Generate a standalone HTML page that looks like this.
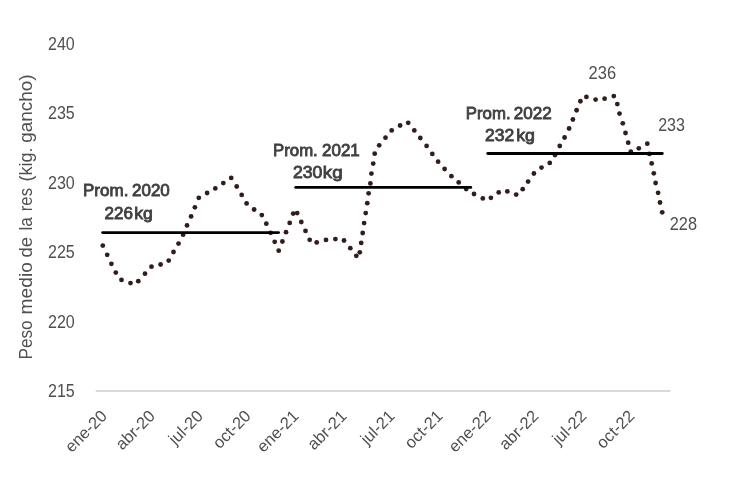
<!DOCTYPE html><html><head><meta charset="utf-8"><style>html,body{margin:0;padding:0;background:#fff;}svg{display:block;will-change:transform;}text{font-family:"Liberation Sans",sans-serif;}</style></head><body>
<svg width="733" height="480" viewBox="0 0 733 480">
<rect width="733" height="480" fill="#fff"/>
<line x1="95.7" y1="391" x2="670.5" y2="391" stroke="#cdcdcd" stroke-width="1.4"/>
<text x="74.8" y="49.5" text-anchor="end" font-size="18" fill="#4f4f4f" textLength="26.8" lengthAdjust="spacingAndGlyphs">240</text>
<text x="74.8" y="119.0" text-anchor="end" font-size="18" fill="#4f4f4f" textLength="26.8" lengthAdjust="spacingAndGlyphs">235</text>
<text x="74.8" y="188.6" text-anchor="end" font-size="18" fill="#4f4f4f" textLength="26.8" lengthAdjust="spacingAndGlyphs">230</text>
<text x="74.8" y="258.1" text-anchor="end" font-size="18" fill="#4f4f4f" textLength="26.8" lengthAdjust="spacingAndGlyphs">225</text>
<text x="74.8" y="327.7" text-anchor="end" font-size="18" fill="#4f4f4f" textLength="26.8" lengthAdjust="spacingAndGlyphs">220</text>
<text x="74.8" y="397.2" text-anchor="end" font-size="18" fill="#4f4f4f" textLength="26.8" lengthAdjust="spacingAndGlyphs">215</text>
<text transform="translate(32.4,359.6) rotate(-90)" x="0" y="0" font-size="18" fill="#4f4f4f" textLength="39.3" lengthAdjust="spacingAndGlyphs">Peso</text>
<text transform="translate(32.4,314.4) rotate(-90)" x="0" y="0" font-size="18" fill="#4f4f4f" textLength="52.2" lengthAdjust="spacingAndGlyphs">medio</text>
<text transform="translate(32.4,257.6) rotate(-90)" x="0" y="0" font-size="18" fill="#4f4f4f" textLength="20.5" lengthAdjust="spacingAndGlyphs">de</text>
<text transform="translate(32.4,230.5) rotate(-90)" x="0" y="0" font-size="18" fill="#4f4f4f" textLength="13.4" lengthAdjust="spacingAndGlyphs">la</text>
<text transform="translate(32.4,211.2) rotate(-90)" x="0" y="0" font-size="18" fill="#4f4f4f" textLength="23.2" lengthAdjust="spacingAndGlyphs">res</text>
<text transform="translate(32.4,181.5) rotate(-90)" x="0" y="0" font-size="18" fill="#4f4f4f" textLength="34.1" lengthAdjust="spacingAndGlyphs">(kig.</text>
<text transform="translate(32.4,142.8) rotate(-90)" x="0" y="0" font-size="18" fill="#4f4f4f" textLength="68.5" lengthAdjust="spacingAndGlyphs">gancho)</text>
<text transform="translate(99.50,408.5) rotate(-45)" x="0" y="0" text-anchor="end" font-size="16.5" fill="#4f4f4f" dominant-baseline="hanging">ene-20</text>
<text transform="translate(147.45,408.5) rotate(-45)" x="0" y="0" text-anchor="end" font-size="16.5" fill="#4f4f4f" dominant-baseline="hanging">abr-20</text>
<text transform="translate(195.41,408.5) rotate(-45)" x="0" y="0" text-anchor="end" font-size="16.5" fill="#4f4f4f" dominant-baseline="hanging">jul-20</text>
<text transform="translate(243.37,408.5) rotate(-45)" x="0" y="0" text-anchor="end" font-size="16.5" fill="#4f4f4f" dominant-baseline="hanging">oct-20</text>
<text transform="translate(291.32,408.5) rotate(-45)" x="0" y="0" text-anchor="end" font-size="16.5" fill="#4f4f4f" dominant-baseline="hanging">ene-21</text>
<text transform="translate(339.27,408.5) rotate(-45)" x="0" y="0" text-anchor="end" font-size="16.5" fill="#4f4f4f" dominant-baseline="hanging">abr-21</text>
<text transform="translate(387.23,408.5) rotate(-45)" x="0" y="0" text-anchor="end" font-size="16.5" fill="#4f4f4f" dominant-baseline="hanging">jul-21</text>
<text transform="translate(435.19,408.5) rotate(-45)" x="0" y="0" text-anchor="end" font-size="16.5" fill="#4f4f4f" dominant-baseline="hanging">oct-21</text>
<text transform="translate(483.14,408.5) rotate(-45)" x="0" y="0" text-anchor="end" font-size="16.5" fill="#4f4f4f" dominant-baseline="hanging">ene-22</text>
<text transform="translate(531.10,408.5) rotate(-45)" x="0" y="0" text-anchor="end" font-size="16.5" fill="#4f4f4f" dominant-baseline="hanging">abr-22</text>
<text transform="translate(579.05,408.5) rotate(-45)" x="0" y="0" text-anchor="end" font-size="16.5" fill="#4f4f4f" dominant-baseline="hanging">jul-22</text>
<text transform="translate(627.00,408.5) rotate(-45)" x="0" y="0" text-anchor="end" font-size="16.5" fill="#4f4f4f" dominant-baseline="hanging">oct-22</text>
<text x="83.00" y="195.8" font-size="16.3" fill="#404040" stroke="#404040" stroke-width="0.8" textLength="45.40" lengthAdjust="spacingAndGlyphs">Prom.</text>
<text x="132.00" y="195.8" font-size="16.3" fill="#404040" stroke="#404040" stroke-width="0.8" textLength="37.80" lengthAdjust="spacingAndGlyphs">2020</text>
<text x="104.60" y="218.9" font-size="16.3" fill="#404040" stroke="#404040" stroke-width="0.8" textLength="28.40" lengthAdjust="spacingAndGlyphs">226</text>
<text x="134.20" y="218.9" font-size="16.3" fill="#404040" stroke="#404040" stroke-width="0.8" textLength="18.60" lengthAdjust="spacingAndGlyphs">kg</text>
<text x="273.00" y="155.5" font-size="16.3" fill="#404040" stroke="#404040" stroke-width="0.8" textLength="44.80" lengthAdjust="spacingAndGlyphs">Prom.</text>
<text x="322.00" y="155.5" font-size="16.3" fill="#404040" stroke="#404040" stroke-width="0.8" textLength="37.80" lengthAdjust="spacingAndGlyphs">2021</text>
<text x="293.00" y="178.2" font-size="16.3" fill="#404040" stroke="#404040" stroke-width="0.8" textLength="29.40" lengthAdjust="spacingAndGlyphs">230</text>
<text x="322.80" y="178.2" font-size="16.3" fill="#404040" stroke="#404040" stroke-width="0.8" textLength="19.80" lengthAdjust="spacingAndGlyphs">kg</text>
<text x="465.80" y="118.8" font-size="16.3" fill="#404040" stroke="#404040" stroke-width="0.8" textLength="44.80" lengthAdjust="spacingAndGlyphs">Prom.</text>
<text x="513.80" y="118.8" font-size="16.3" fill="#404040" stroke="#404040" stroke-width="0.8" textLength="38.00" lengthAdjust="spacingAndGlyphs">2022</text>
<text x="485.00" y="141.2" font-size="16.3" fill="#404040" stroke="#404040" stroke-width="0.8" textLength="29.20" lengthAdjust="spacingAndGlyphs">232</text>
<text x="516.20" y="141.2" font-size="16.3" fill="#404040" stroke="#404040" stroke-width="0.8" textLength="18.80" lengthAdjust="spacingAndGlyphs">kg</text>
<text x="588.6" y="78.9" font-size="17.8" fill="#4f4f4f" textLength="27.5" lengthAdjust="spacingAndGlyphs">236</text>
<text x="658.2" y="130.9" font-size="17.8" fill="#4f4f4f" textLength="26.8" lengthAdjust="spacingAndGlyphs">233</text>
<text x="669.7" y="230" font-size="17.8" fill="#4f4f4f" textLength="27.3" lengthAdjust="spacingAndGlyphs">228</text>
<g fill="#321c1c">
<circle cx="102.8" cy="245.6" r="2.4"/>
<circle cx="107.2" cy="254.8" r="2.4"/>
<circle cx="111.4" cy="263.8" r="2.4"/>
<circle cx="115.8" cy="272.6" r="2.4"/>
<circle cx="121.5" cy="279.9" r="2.4"/>
<circle cx="130.5" cy="283.1" r="2.4"/>
<circle cx="138.3" cy="281.2" r="2.4"/>
<circle cx="145" cy="273.7" r="2.4"/>
<circle cx="151.5" cy="266.7" r="2.4"/>
<circle cx="160.6" cy="264.5" r="2.4"/>
<circle cx="168.7" cy="260.6" r="2.4"/>
<circle cx="173.5" cy="252" r="2.4"/>
<circle cx="178.5" cy="243.6" r="2.4"/>
<circle cx="183.1" cy="234.7" r="2.4"/>
<circle cx="187" cy="225.4" r="2.4"/>
<circle cx="191.1" cy="216.4" r="2.4"/>
<circle cx="194.9" cy="207.3" r="2.4"/>
<circle cx="198.8" cy="197.8" r="2.4"/>
<circle cx="207.1" cy="193" r="2.4"/>
<circle cx="215.3" cy="188.4" r="2.4"/>
<circle cx="223.3" cy="183.1" r="2.4"/>
<circle cx="231.2" cy="177.9" r="2.4"/>
<circle cx="236.7" cy="186.5" r="2.4"/>
<circle cx="241.7" cy="194.9" r="2.4"/>
<circle cx="246.6" cy="203.4" r="2.4"/>
<circle cx="254.1" cy="209.5" r="2.4"/>
<circle cx="261.8" cy="215.1" r="2.4"/>
<circle cx="266.3" cy="223.7" r="2.4"/>
<circle cx="270.6" cy="232.8" r="2.4"/>
<circle cx="274.7" cy="241.8" r="2.4"/>
<circle cx="278.7" cy="250.7" r="2.4"/>
<circle cx="282.4" cy="241.5" r="2.4"/>
<circle cx="286" cy="232.2" r="2.4"/>
<circle cx="289.7" cy="222.9" r="2.4"/>
<circle cx="293.2" cy="213.6" r="2.4"/>
<circle cx="297.2" cy="213.1" r="2.4"/>
<circle cx="301.3" cy="222" r="2.4"/>
<circle cx="305.5" cy="230.9" r="2.4"/>
<circle cx="309.7" cy="239.8" r="2.4"/>
<circle cx="316.7" cy="242.4" r="2.4"/>
<circle cx="326" cy="239.9" r="2.4"/>
<circle cx="335.4" cy="239.1" r="2.4"/>
<circle cx="344" cy="240.5" r="2.4"/>
<circle cx="350.3" cy="248.2" r="2.4"/>
<circle cx="356.3" cy="255.8" r="2.4"/>
<circle cx="359.8" cy="252.3" r="2.4"/>
<circle cx="361.2" cy="242.9" r="2.4"/>
<circle cx="362.7" cy="233" r="2.4"/>
<circle cx="364.1" cy="223.1" r="2.4"/>
<circle cx="365.7" cy="213.1" r="2.4"/>
<circle cx="367.3" cy="203.2" r="2.4"/>
<circle cx="368.6" cy="193.3" r="2.4"/>
<circle cx="370.4" cy="183.4" r="2.4"/>
<circle cx="371.4" cy="173.6" r="2.4"/>
<circle cx="373.2" cy="163.6" r="2.4"/>
<circle cx="374.7" cy="153.7" r="2.4"/>
<circle cx="379.2" cy="145.3" r="2.4"/>
<circle cx="385.5" cy="137.7" r="2.4"/>
<circle cx="391.7" cy="130.4" r="2.4"/>
<circle cx="400.1" cy="125.5" r="2.4"/>
<circle cx="408.2" cy="122.8" r="2.4"/>
<circle cx="414.3" cy="130.4" r="2.4"/>
<circle cx="420.3" cy="138" r="2.4"/>
<circle cx="426.6" cy="145.9" r="2.4"/>
<circle cx="432.3" cy="153.9" r="2.4"/>
<circle cx="438.1" cy="161.7" r="2.4"/>
<circle cx="444.6" cy="169" r="2.4"/>
<circle cx="451.4" cy="176.2" r="2.4"/>
<circle cx="458.7" cy="182.4" r="2.4"/>
<circle cx="466.2" cy="189.1" r="2.4"/>
<circle cx="474" cy="194" r="2.4"/>
<circle cx="482.8" cy="198.4" r="2.4"/>
<circle cx="490.9" cy="197.8" r="2.4"/>
<circle cx="498.7" cy="192.4" r="2.4"/>
<circle cx="507.3" cy="191.4" r="2.4"/>
<circle cx="516.2" cy="194.6" r="2.4"/>
<circle cx="522.7" cy="189.2" r="2.4"/>
<circle cx="528.1" cy="181.6" r="2.4"/>
<circle cx="533.9" cy="173.5" r="2.4"/>
<circle cx="541.5" cy="167.6" r="2.4"/>
<circle cx="549.75" cy="162.9" r="2.4"/>
<circle cx="555" cy="155" r="2.4"/>
<circle cx="559.75" cy="146" r="2.4"/>
<circle cx="564.6" cy="137.5" r="2.4"/>
<circle cx="569.1" cy="128.5" r="2.4"/>
<circle cx="572.9" cy="119.5" r="2.4"/>
<circle cx="576.6" cy="110.25" r="2.4"/>
<circle cx="580.4" cy="101.25" r="2.4"/>
<circle cx="586.4" cy="96.9" r="2.4"/>
<circle cx="595.6" cy="99.6" r="2.4"/>
<circle cx="604.6" cy="98.7" r="2.4"/>
<circle cx="613.8" cy="96.1" r="2.4"/>
<circle cx="617.3" cy="104.1" r="2.4"/>
<circle cx="619.5" cy="113.6" r="2.4"/>
<circle cx="622.8" cy="123.3" r="2.4"/>
<circle cx="625.5" cy="133" r="2.4"/>
<circle cx="628.2" cy="142.7" r="2.4"/>
<circle cx="630.8" cy="151.7" r="2.4"/>
<circle cx="638.8" cy="148.3" r="2.4"/>
<circle cx="647.3" cy="143.7" r="2.4"/>
<circle cx="649.4" cy="153.9" r="2.4"/>
<circle cx="651.7" cy="163.4" r="2.4"/>
<circle cx="653.8" cy="173.3" r="2.4"/>
<circle cx="655.6" cy="183" r="2.4"/>
<circle cx="658.1" cy="192.8" r="2.4"/>
<circle cx="660" cy="202.5" r="2.4"/>
<circle cx="662.2" cy="212.3" r="2.4"/>
</g>
<line x1="102.6" y1="232.6" x2="278.6" y2="232.6" stroke="#000" stroke-width="2.8" stroke-linecap="round"/>
<line x1="295.7" y1="187.4" x2="470.8" y2="187.4" stroke="#000" stroke-width="2.8" stroke-linecap="round"/>
<line x1="487.7" y1="153.5" x2="662.3" y2="153.5" stroke="#000" stroke-width="2.8" stroke-linecap="round"/>
</svg></body></html>
